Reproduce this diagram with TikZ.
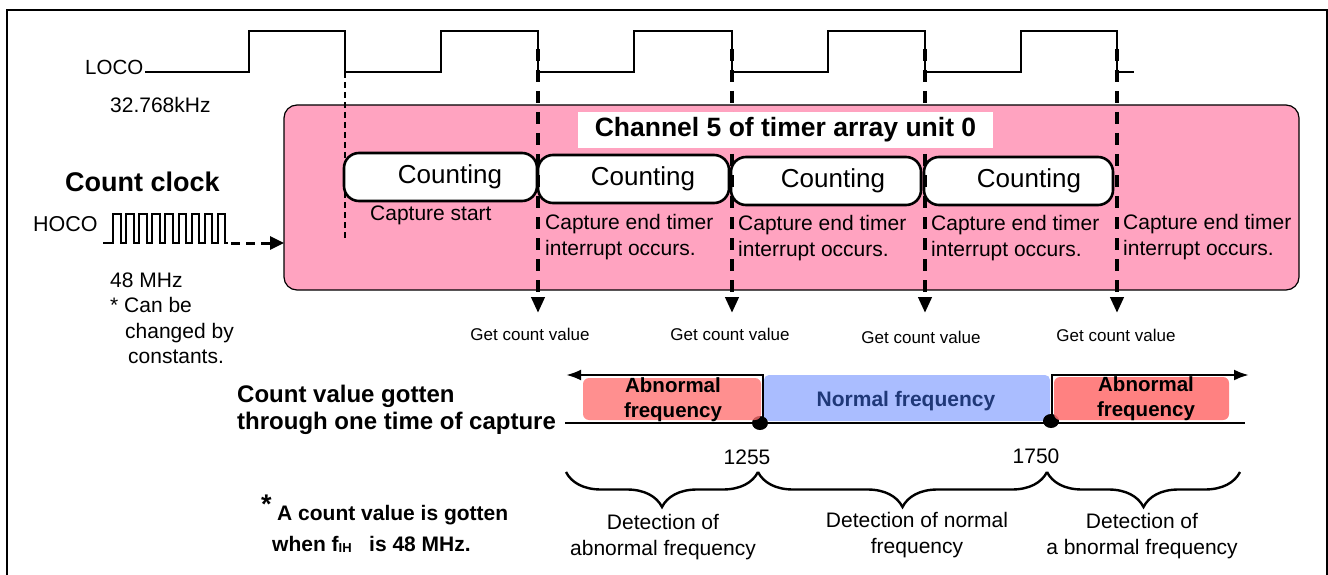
\documentclass[tikz,border=0pt]{standalone}
\usepackage{fontspec}
\setmainfont{Liberation Sans}
\usetikzlibrary{arrows.meta,decorations.pathreplacing}
\definecolor{pinkbg}{RGB}{255,163,192}
\definecolor{abnbg}{RGB}{255,112,112}
\definecolor{normbg}{RGB}{170,189,255}
\definecolor{normtxt}{RGB}{31,56,120}
\newcommand{\setfs}[1]{\fontsize{#1}{#1}\selectfont}
\begin{document}
\begin{tikzpicture}[x=1pt,y=-1pt,
  txt/.style={inner sep=0pt, font=\setfs{21}},
  cnt/.style={inner sep=0pt, font=\setfs{26}},
  capt/.style={inner sep=0pt, font=\fontsize{21}{26}\selectfont, align=left, anchor=west},
  gcv/.style={inner sep=0pt, font=\setfs{17}},
  det/.style={inner sep=0pt, font=\fontsize{21}{26}\selectfont, align=center},
  wave/.style={line width=2.2pt, line join=miter},
  cbox/.style={draw=black, line width=2.6pt, fill=white, rounded corners=15pt},
  thickdash/.style={line width=4.5pt, dash pattern=on 12pt off 9pt, -{Triangle[length=16pt,width=13pt]}},
  axisline/.style={line width=2.6pt},
  bracestyle/.style={line width=2.4pt, decorate, decoration={brace, mirror, amplitude=35pt}},
]
\useasboundingbox (0,0) rectangle (1328,575);
% frame
\draw[line width=2pt] (7,585) -- (7,10) -- (1327,10) -- (1327,585);

% LOCO waveform
\node[inner sep=0pt, font=\setfs{20.5}, anchor=mid west] (loco) at (85,72) {LOCO};
\node[txt, anchor=mid west] (lfreq) at (110,110) {32.768kHz};
\draw[wave] (145,72) -- (249,72) -- (249,31) -- (345,31) -- (345,72) -- (441,72) -- (441,31) -- (538,31) -- (538,72) -- (634,72) -- (634,31) -- (732,31) -- (732,72) -- (828,72) -- (828,31) -- (925,31) -- (925,72) -- (1021,72) -- (1021,31) -- (1117,31) -- (1117,72) -- (1134,72);

% pink unit box
\draw[line width=1.2pt, fill=pinkbg, rounded corners=13pt] (284,105) rectangle (1299,290);

% count clock
\node[inner sep=0pt, font=\bfseries\setfs{27}, anchor=mid west] (cclk) at (65,189) {Count clock};
\node[inner sep=0pt, font=\setfs{21.5}, anchor=mid west] (hoco) at (33,229) {HOCO};
\draw[wave, line width=2pt] (103,243) -- (113,243)
  \foreach \k in {0,...,8} { -- ({113+\k*13.1},243) -- ({113+\k*13.1},214) -- ({120.5+\k*13.1},214) -- ({120.5+\k*13.1},243) }
  -- (228,243);
\coordinate (hocoend) at (231,243);
\coordinate (unitin) at (284,243);
\draw[line width=3pt, dash pattern=on 9pt off 6pt, -{Triangle[length=14pt,width=13pt]}] (hocoend) -- (unitin);
\node[txt, anchor=mid west] (h48) at (110,285) {48 MHz};
\node[txt, anchor=mid west] (hnote1) at (110,310) {* Can be};
\node[txt, anchor=mid west] (hnote2) at (125,336) {changed by};
\node[txt, anchor=mid west] (hnote3) at (128,361) {constants.};

% thin dashed start line
\coordinate (st0) at (345,72);
\coordinate (st1) at (345,240);
\draw[line width=1.6pt, dash pattern=on 6pt off 4pt] (st0) -- (st1);

% counting boxes
\draw[cbox] (344,153) rectangle (537,201);
\draw[cbox] (538,155) rectangle (729,203);
\draw[cbox] (731,157) rectangle (921,205);
\draw[cbox] (924,157) rectangle (1113,205);
\node[cnt] (c1) at (450,177) {Counting};
\node[cnt] (c2) at (643,179) {Counting};
\node[cnt] (c3) at (833,181) {Counting};
\node[cnt] (c4) at (1029,181) {Counting};

% capture texts
\node[inner sep=0pt, font=\setfs{21}, anchor=mid west] (cs) at (370,218) {Capture start};
\node[capt] (ce1) at (545,237) {Capture end timer\\interrupt occurs.};
\node[capt] (ce2) at (738,238) {Capture end timer\\interrupt occurs.};
\node[capt] (ce3) at (931,238) {Capture end timer\\interrupt occurs.};
\node[capt] (ce4) at (1123,237) {Capture end timer\\interrupt occurs.};

% get count value arrows
\coordinate (d1a) at (538,49); \coordinate (d1b) at (538,313);
\coordinate (d2a) at (732,49); \coordinate (d2b) at (732,313);
\coordinate (d3a) at (925,49); \coordinate (d3b) at (925,313);
\coordinate (d4a) at (1117,49); \coordinate (d4b) at (1117,313);
\draw[thickdash] (d1a) -- (d1b);
\draw[thickdash] (d2a) -- (d2b);
\draw[thickdash] (d3a) -- (d3b);
\draw[thickdash] (d4a) -- (d4b);
\node[gcv] (g1) at (530,334) {Get count value};
\node[gcv] (g2) at (730,334) {Get count value};
\node[gcv] (g3) at (921,337) {Get count value};
\node[gcv] (g4) at (1116,335) {Get count value};

% channel label
\node[fill=white, minimum width=415pt, minimum height=36pt, inner sep=0pt, font=\bfseries\setfs{26.5}] (chan) at (785.5,130) {Channel 5 of timer array unit 0};

% count value line
\node[inner sep=0pt, font=\bfseries\fontsize{24}{27}\selectfont, align=left, anchor=west] (cvg) at (237,410) {Count value gotten\\through one time of capture};
\fill[normbg, rounded corners=5pt] (764,375) rectangle (1050,421);
\coordinate (ax0) at (565,423);
\coordinate (ax1) at (1245,423);
\draw[axisline] (ax0) -- (ax1);
\coordinate (lb) at (763,423); \coordinate (lt) at (763,375); \coordinate (le) at (566,375);
\coordinate (rb) at (1052,423); \coordinate (rt) at (1052,375); \coordinate (re) at (1249,375);
\draw[axisline, -{Latex[length=15pt,width=11pt]}] (lb) -- (lt) -- (le);
\draw[axisline, -{Latex[length=15pt,width=11pt]}] (rb) -- (rt) -- (re);
\fill[black] (760,423) ellipse [x radius=8pt, y radius=7pt];
\fill[black] (1051,421) ellipse [x radius=8pt, y radius=7pt];
\fill[abnbg, fill opacity=0.78, rounded corners=6pt] (583,378) rectangle (761,420);
\fill[abnbg, fill opacity=0.88, rounded corners=6pt] (1054,377) rectangle (1229,420);
\node[inner sep=0pt, font=\bfseries\fontsize{20.5}{25}\selectfont, align=center] (ab1) at (673,400) {Abnormal\\frequency};
\node[inner sep=0pt, font=\bfseries\setfs{21}, text=normtxt] (nf) at (906,401) {Normal frequency};
\node[inner sep=0pt, font=\bfseries\fontsize{20.5}{25}\selectfont, align=center] (ab2) at (1146,399) {Abnormal\\frequency};

% thresholds
\node[inner sep=0pt, font=\setfs{21}] (t1) at (747,457) {1255};
\node[inner sep=0pt, font=\setfs{21}] (t2) at (1036,456) {1750};

% braces
\draw[bracestyle] (566,472) -- (758,472);
\draw[bracestyle] (758,472) -- (1047,472);
\draw[bracestyle] (1047,472) -- (1240,472);
\node[det] (dt1) at (663,537) {Detection of\\abnormal frequency};
\node[det] (dt2) at (917,535) {Detection of normal\\frequency};
\node[det] (dt3) at (1142,536) {Detection of\\a bnormal frequency};

% footnote
\node[inner sep=0pt, font=\bfseries\setfs{27}, anchor=mid west] (star) at (261,511) {*};
\node[inner sep=0pt, font=\bfseries\setfs{21}, anchor=mid west] (fn1) at (277,518) {A count value is gotten};
\node[inner sep=0pt, font=\bfseries\setfs{21}, anchor=mid west] (fn2) at (272,549) {when f\raisebox{-1pt}{\setfs{13}IH}\ \ \ is 48 MHz.};
\end{tikzpicture}
\end{document}
